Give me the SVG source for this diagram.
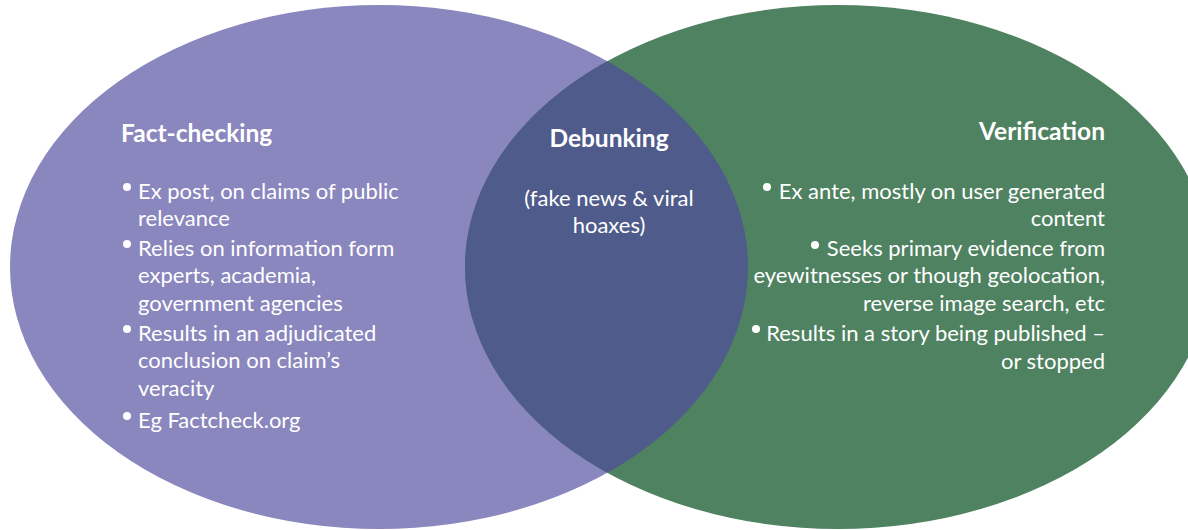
<svg xmlns="http://www.w3.org/2000/svg" width="1188" height="530" viewBox="0 0 1188 530">
<style>
text{font-family:Lato,"Open Sans",sans-serif;fill:#ffffff}
.t{font-size:24.5px;font-weight:bold}
.b{font-size:22px}
.r{text-anchor:end}
.m{text-anchor:middle}
circle.d{fill:#ffffff}
</style>
<defs>
<clipPath id="cl"><ellipse cx="379" cy="267" rx="369" ry="262"/></clipPath>
</defs>
<rect width="1188" height="530" fill="#ffffff"/>
<g id="factchecking">
<ellipse cx="379" cy="267" rx="369" ry="262" fill="#8A86BE"/>
</g>
<g id="verification">
<ellipse cx="838" cy="267" rx="373" ry="262" fill="#4F8261"/>
</g>
<g id="debunking">
<ellipse cx="838" cy="267" rx="373" ry="262" fill="#4F5B8A" clip-path="url(#cl)"/>
</g>
<g id="factchecking-text">
<text class="t" x="121" y="142">Fact-checking</text>
<circle class="d" cx="127" cy="187" r="4"/>
<text class="b" x="138" y="199">Ex post, on claims of public</text>
<text class="b" x="138" y="226">relevance</text>
<circle class="d" cx="127" cy="244" r="4"/>
<text class="b" x="138" y="256">Relies on information form</text>
<text class="b" x="138" y="283">experts, academia,</text>
<text class="b" x="138" y="311">government agencies</text>
<circle class="d" cx="127" cy="329" r="4"/>
<text class="b" x="138" y="341">Results in an adjudicated</text>
<text class="b" x="138" y="368">conclusion on claim’s</text>
<text class="b" x="138" y="396">veracity</text>
<circle class="d" cx="127" cy="416" r="4"/>
<text class="b" x="138" y="428">Eg Factcheck.org</text>
</g>
<g id="debunking-text">
<text class="t m" x="609" y="147">Debunking</text>
<text class="b m" x="609" y="206">(fake news &amp; viral</text>
<text class="b m" x="609" y="233">hoaxes)</text>
</g>
<g id="verification-text">
<text class="t r" x="1105" y="140">Verification</text>
<circle class="d" cx="767" cy="187" r="4"/>
<text class="b r" x="1105" y="199">Ex ante, mostly on user generated</text>
<text class="b r" x="1105" y="226">content</text>
<circle class="d" cx="815" cy="245" r="4"/>
<text class="b r" x="1105" y="256">Seeks primary evidence from</text>
<text class="b r" x="1105" y="283">eyewitnesses or though geolocation,</text>
<text class="b r" x="1105" y="311">reverse image search, etc</text>
<circle class="d" cx="756" cy="329" r="4"/>
<text class="b r" x="1105" y="341">Results in a story being published –</text>
<text class="b r" x="1105" y="369">or stopped</text>
</g>
<g id="connectors"/>
</svg>
